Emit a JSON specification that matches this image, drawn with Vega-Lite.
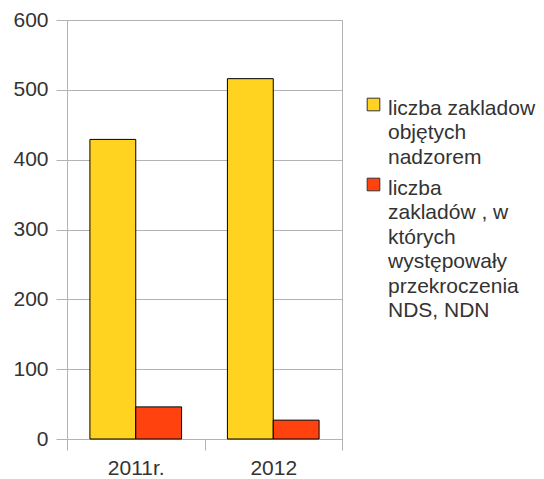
{
  "$schema": "https://vega.github.io/schema/vega-lite/v6.json",
  "width": 275,
  "height": 419,
  "autosize": {"type": "none"},
  "padding": {"left": 67, "top": 20, "right": 202, "bottom": 40},
  "config": {
    "font": "Liberation Sans",
    "view": {"stroke": "#b3b3b3", "strokeWidth": 1}
  },
  "data": {
    "values": [
      {"year": "2011r.", "series": "liczba zakladow objętych nadzorem", "value": 429},
      {"year": "2011r.", "series": "liczba zakladów , w których występowały przekroczenia NDS, NDN", "value": 46},
      {"year": "2012", "series": "liczba zakladow objętych nadzorem", "value": 516},
      {"year": "2012", "series": "liczba zakladów , w których występowały przekroczenia NDS, NDN", "value": 27}
    ]
  },
  "mark": {"type": "bar", "stroke": "#000000", "strokeWidth": 1},
  "encoding": {
    "x": {
      "field": "year", "type": "nominal", "sort": null,
      "scale": {"paddingInner": 0, "paddingOuter": 0},
      "axis": {
        "title": null, "labelAngle": 0, "tickBand": "extent", "domain": false,
        "tickColor": "#b3b3b3", "tickSize": 11, "labelFontSize": 21,
        "labelColor": "#333333", "labelPadding": 7
      }
    },
    "xOffset": {
      "field": "series", "type": "nominal", "sort": null,
      "scale": {"paddingInner": 0, "paddingOuter": 0.5}
    },
    "y": {
      "field": "value", "type": "quantitative",
      "scale": {"domain": [0, 600], "nice": false},
      "axis": {
        "title": null, "values": [0, 100, 200, 300, 400, 500, 600],
        "gridColor": "#b3b3b3", "domain": false, "tickColor": "#b3b3b3",
        "tickSize": 11, "labelFontSize": 21, "labelColor": "#333333", "labelPadding": 8
      }
    },
    "color": {
      "field": "series", "type": "nominal", "sort": null,
      "scale": {"range": ["#FFD320", "#FF420E"]},
      "legend": {
        "title": null, "orient": "none", "legendX": 296, "legendY": 74,
        "symbolType": "square", "symbolSize": 160, "symbolStrokeColor": "#333333",
        "symbolStrokeWidth": 1, "labelFontSize": 21, "labelColor": "#333333",
        "labelLimit": 300, "labelOffset": 4, "rowPadding": 6,
        "labelBaseline": "top",
        "labelExpr": "datum.label == 'liczba zakladow objętych nadzorem' ? ['liczba zakladow', 'objętych', 'nadzorem'] : ['liczba', 'zakladów , w', 'których', 'występowały', 'przekroczenia', 'NDS, NDN']",
        "encode": {"labels": {"update": {"lineHeight": {"value": 24.5}, "dy": {"value": -7}}}}
      }
    }
  }
}
